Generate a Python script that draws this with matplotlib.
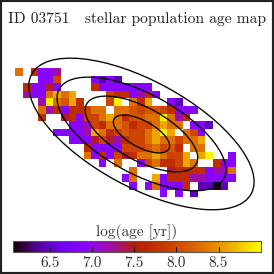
import numpy as np
import matplotlib
matplotlib.use('Agg')
import matplotlib.pyplot as plt
from matplotlib.patches import Ellipse

plt.rcParams['font.family'] = ['cmr10', 'DejaVu Serif']
plt.rcParams['axes.formatter.use_mathtext'] = True

# one letter per map cell, '.' has no data
age_rows = [
    "O.rvvp",
    "...vvR....vdvd",
    ".rvvmv....rvvvvvvv",
    ".pvvOyOy....Rrrvprv",
    "...pYOoyr...RY.Ory..vd",
    "...OprvrrROO.OOoRooRrvvv",
    "...r..mrvRROyOrooOOYOpr",
    ".......vvpRrOOorRROyOO.vvd",
    ".....vvvvpyOrRoRROyYy.ORv",
    ".......vvvmRmprRROyOOROOy",
    ".........rvvvvRRRoORor.OO",
    ".........OvrvRmrOOyORRy.yY..v",
    "...........v.O..vROrrRyO..rvv",
    "...............O....mrrrrvppO",
    "..............vO..yvrrrppvvvv",
    "...............v.vOvvvr.ddkd",
    "...................v.v.d",
]
age_levels = {'k': 6.08, 'd': 6.45, 'v': 6.9, 'p': 7.2, 'm': 7.45, 'r': 7.7,
              'R': 7.95, 'o': 8.1, 'O': 8.3, 'y': 8.6, 'Y': 8.95}

# half axes of the contours, in map cells
ellipse_center = (16.6, 8.68)
ellipse_major = [4.11, 8.22, 12.33, 16.45]
ellipse_ratio = 0.424
ellipse_angle = 28.6

cbar_ticks = [6.5, 7.0, 7.5, 8.0, 8.5]
vmin, vmax = 6.065, 9.0

n_col = 30
age = np.array([[age_levels.get(c, np.nan) for c in row.ljust(n_col, '.')] for row in age_rows])

size = 274.0
cell = 7.6
x0, y0 = 15.3, 68.0

fig = plt.figure(figsize=(2.74, 2.74), dpi=100)
ax = fig.add_axes([0, 0, 1, 1])
mesh = ax.pcolormesh(np.arange(age.shape[1] + 1), np.arange(age.shape[0] + 1),
                     np.ma.masked_invalid(age), cmap='gnuplot', vmin=vmin, vmax=vmax)
ax.set_xlim(-x0 / cell, (size - x0) / cell)
ax.set_ylim((size - y0) / cell, -y0 / cell)
ax.set_xticks([])
ax.set_yticks([])
for s in ax.spines.values():
    s.set_linewidth(3.0)
    s.set_color('#222222')

for a in ellipse_major:
    ax.add_patch(Ellipse(ellipse_center, 2 * a, 2 * a * ellipse_ratio,
                         angle=ellipse_angle, fill=False, ec='black', lw=0.95))

fig.text(8 / size, 1 - 23 / size, 'ID 03751   stellar population age map',
         fontsize=11.2, color='#222222', ha='left', va='baseline')

cax = fig.add_axes([13.3 / size, 1 - 252 / size, 247.4 / size, 11.3 / size])
cb = fig.colorbar(mesh, cax=cax, orientation='horizontal')
cb.set_ticks(cbar_ticks)
cb.set_ticklabels(['%.1f' % t for t in cbar_ticks])
cb.ax.tick_params(direction='in', length=3.5, width=0.7, labelsize=11, pad=3,
                  labelcolor='#333333')
cb.outline.set_linewidth(0.8)
cb.outline.set_edgecolor('#555555')
fig.text(0.5, 1 - 236 / size, 'log(age [yr])', fontsize=11, color='#333333',
         ha='center', va='baseline')

fig.savefig('out.png', dpi=100)
